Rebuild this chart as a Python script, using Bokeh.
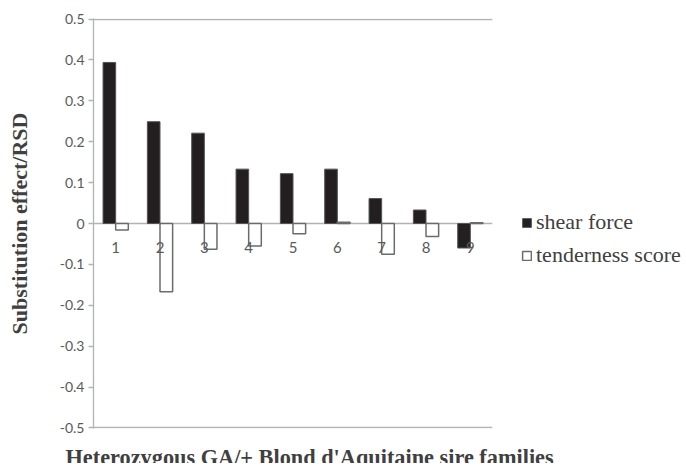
from bokeh.plotting import figure
from bokeh.models import (FactorRange, Range1d, FixedTicker, Legend, LegendItem,
                          ColumnDataSource, Label, CustomJSTickFormatter)
from bokeh.layouts import row, column
from bokeh.transform import dodge
from bokeh.core.properties import value
from bokeh.embed import file_html
from bokeh.resources import INLINE

families = ["1", "2", "3", "4", "5", "6", "7", "8", "9"]
shear_force = [0.394, 0.249, 0.221, 0.133, 0.122, 0.133, 0.061, 0.033, -0.060]
tenderness_score = [-0.016, -0.167, -0.063, -0.055, -0.025, 0.003, -0.075, -0.032, 0.002]
y_ticks = [-0.5, -0.4, -0.3, -0.2, -0.1, 0, 0.1, 0.2, 0.3, 0.4, 0.5]
series_names = ["shear force", "tenderness score"]
x_title = "Heterozygous GA/+ Blond d'Aquitaine sire families"
y_title = "Substitution effect/RSD"

src = ColumnDataSource(dict(fam=families, sf=shear_force, ts=tenderness_score,
                            zero=[0] * len(families)))

p = figure(width=500, height=436, output_backend="svg", toolbar_location=None,
           x_range=FactorRange(*families, range_padding=0), y_range=Range1d(-0.5015, 0.5015),
           x_axis_location=None,
           min_border_left=93, min_border_right=8, min_border_top=18, min_border_bottom=8)
p.outline_line_color = None
p.background_fill_color = "white"
p.border_fill_color = "white"

p.xgrid.grid_line_color = None
p.ygrid.ticker = FixedTicker(ticks=[-0.5, 0, 0.5])
p.ygrid.grid_line_color = "#b3b3b3"
p.ygrid.grid_line_width = 1.3

ax = p.yaxis[0]
ax.ticker = FixedTicker(ticks=y_ticks)
ax.formatter = CustomJSTickFormatter(code="return (Math.round(tick*10)/10).toString();")
ax.axis_line_color = "#b3b3b3"
ax.axis_line_width = 1.3
ax.major_tick_line_color = "#b3b3b3"
ax.major_tick_line_width = 1.3
ax.major_tick_out = 5
ax.major_tick_in = 0
ax.minor_tick_line_color = None
ax.major_label_text_font = "Lato"
ax.major_label_text_font_size = "14px"
ax.major_label_text_color = "#595959"
ax.major_label_standoff = 4
ax.axis_label = y_title
ax.axis_label_text_font = "Liberation Serif"
ax.axis_label_text_font_style = "bold"
ax.axis_label_text_font_size = "22px"
ax.axis_label_text_color = "#404040"
ax.axis_label_standoff = 25

bw = 0.285
sf_style = dict(fill_color="#231f20", line_color="#555555", line_width=1)
ts_style = dict(fill_color="white", line_color="#6b6b6b", line_width=1.5)
p.vbar(x=dodge("fam", -bw / 2, range=p.x_range), top="sf", bottom=0, width=bw,
       source=src, **sf_style)
p.vbar(x=dodge("fam", bw / 2, range=p.x_range), top="ts", bottom=0, width=bw,
       source=src, **ts_style)

p.text(x="fam", y="zero", text="fam", source=src, y_offset=24,
       text_font=value("Lato"), text_font_size="15px", text_color="#595959",
       text_align="center", text_baseline="middle")

# legend panel (same series, renderers hidden so only the legend shows)
pl = figure(width=186, height=436, output_backend="svg", toolbar_location=None,
            x_range=FactorRange(*families), y_range=Range1d(-0.5, 0.5),
            x_axis_location=None, y_axis_location=None, min_border=0)
pl.outline_line_color = None
pl.grid.grid_line_color = None
l1 = pl.vbar(x="fam", top="sf", bottom=0, width=bw, source=src, visible=False, **sf_style)
l2 = pl.vbar(x="fam", top="ts", bottom=0, width=bw, source=src, visible=False, **ts_style)
legend = Legend(items=[LegendItem(label=series_names[0], renderers=[l1]),
                       LegendItem(label=series_names[1], renderers=[l2])],
                location=(21, 160), orientation="vertical")
legend.inactive_fill_alpha = 0
legend.border_line_color = None
legend.background_fill_alpha = 0
legend.padding = 0
legend.margin = 0
legend.spacing = 7
legend.glyph_width = 11
legend.glyph_height = 11
legend.label_height = 21
legend.label_standoff = 4
legend.label_text_font = "Liberation Serif"
legend.label_text_font_size = "22px"
legend.label_text_color = "#404040"
pl.add_layout(legend, "center")

# bottom strip with the x-axis title
pt = figure(width=686, height=27, output_backend="svg", toolbar_location=None,
            x_range=Range1d(0, 686), y_range=Range1d(0, 27),
            x_axis_location=None, y_axis_location=None, min_border=0)
pt.outline_line_color = None
pt.grid.grid_line_color = None
pt.add_layout(Label(x=65, y=6, text=x_title, text_baseline="alphabetic",
                    text_font="Liberation Serif", text_font_style="bold",
                    text_font_size="22.3px", text_color="#404040"))

layout = column(row(p, pl), pt)
open("out.html", "w").write(file_html(layout, INLINE))
